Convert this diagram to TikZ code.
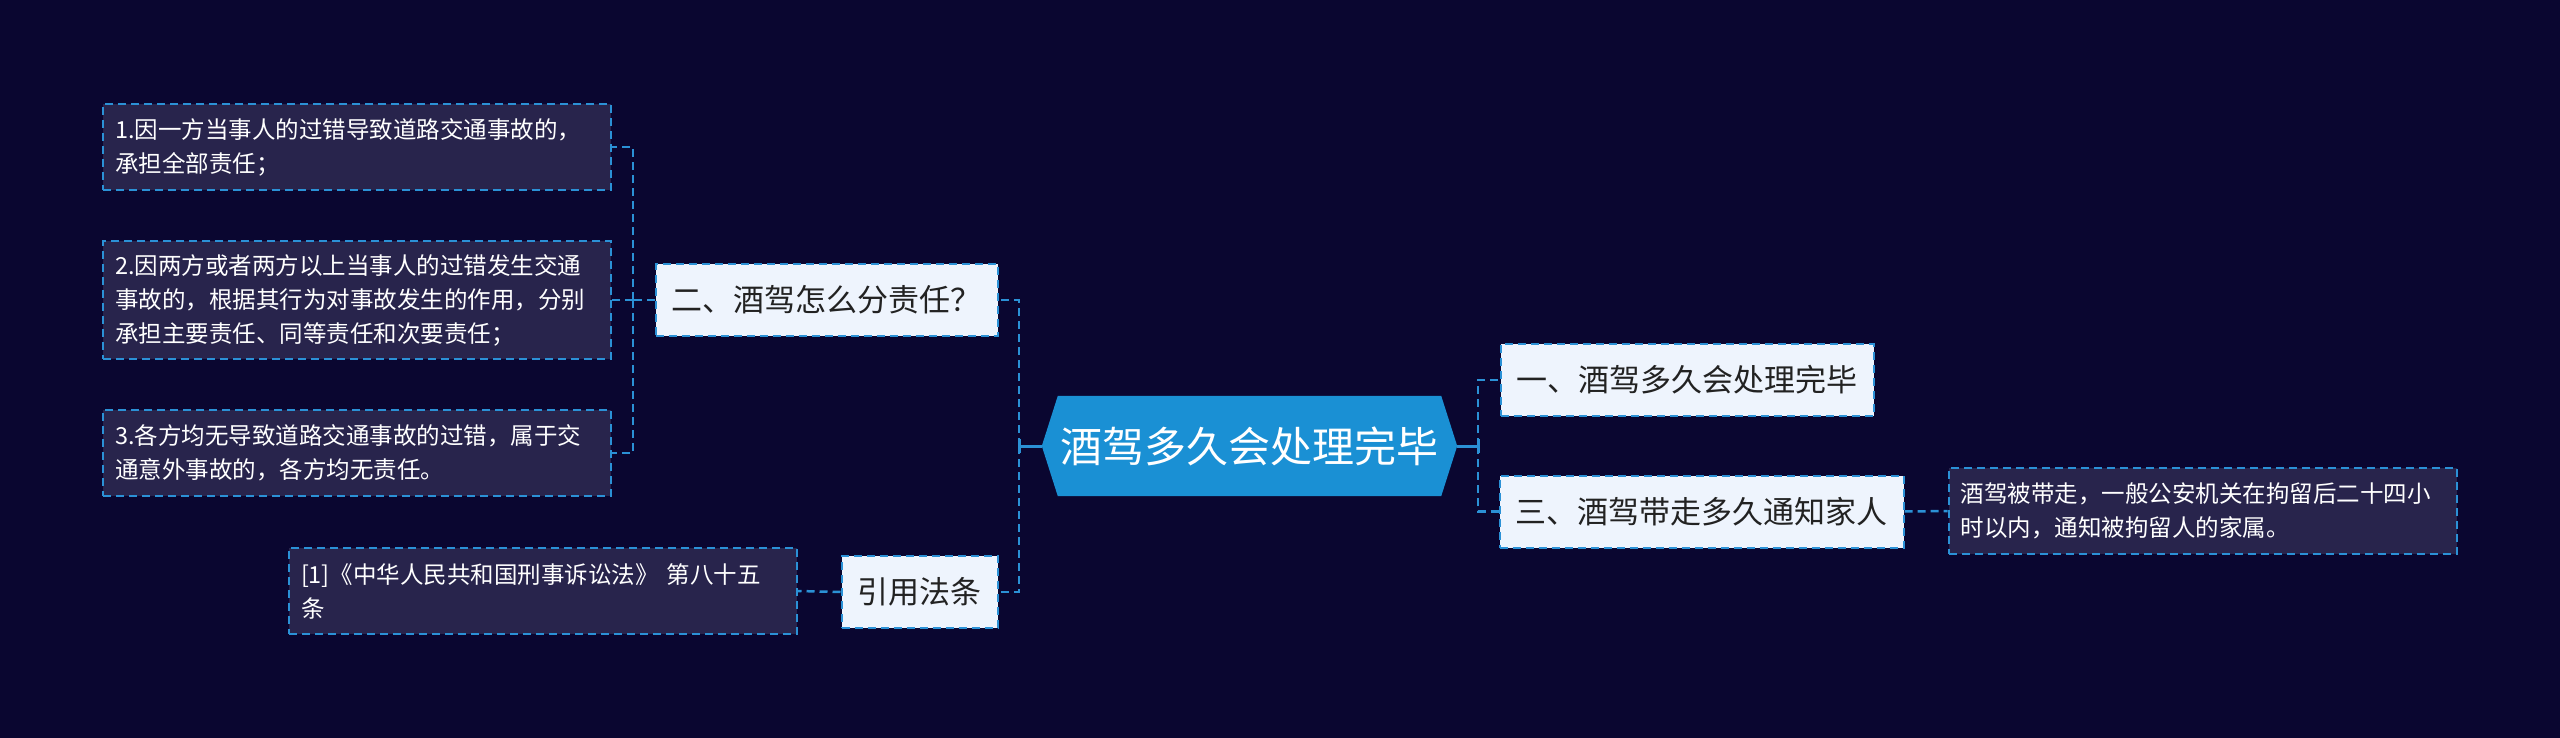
\documentclass[tikz,border=0pt]{standalone}
\usepackage{fontspec}
\newfontfamily\cjk{Noto Sans CJK SC}
\usepackage{xcolor}
\usetikzlibrary{backgrounds}

\definecolor{bgnavy}{HTML}{0A0630}
\definecolor{rootblue}{HTML}{1A90D4}
\definecolor{linkblue}{HTML}{2B91D6}
\definecolor{topicfill}{HTML}{EEF4FD}
\definecolor{topictext}{HTML}{222222}
\definecolor{leaffill}{HTML}{28244C}

\begin{document}
\begin{tikzpicture}[x=1pt, y=-1pt,
    root/.style={rectangle, minimum width=415pt, minimum height=100pt, inner sep=0pt, text=white, font=\cjk\fontsize{42}{50}\selectfont},
    topic/.style={rectangle, draw=linkblue, line width=2pt, dash pattern=on 8pt off 5pt, fill=topicfill, text=topictext, inner xsep=16pt, inner ysep=0pt, minimum height=72pt, font=\cjk\fontsize{31}{38}\selectfont},
    leaf/.style={rectangle, draw=linkblue, line width=2pt, dash pattern=on 8pt off 5pt, fill=leaffill, text=white, text width=484pt, inner xsep=12pt, inner ysep=0pt, minimum height=86pt, align=left, font=\cjk\fontsize{23.5}{34}\selectfont},
    link/.style={draw=linkblue, line width=2.5pt, dash pattern=on 8pt off 5pt},
    stem/.style={draw=linkblue, line width=3pt}
]
    \useasboundingbox (0,0) rectangle (2560,738);

    % Centre
    \node[root] (root) at (1249.5,446) {酒驾多久会处理完毕};

    % Left branch
    \node[topic] (duty) at (826.5,300) {二、酒驾怎么分责任？};
    \node[topic] (law) at (919.5,592) {引用法条};
    \node[leaf] (duty1) at (357,147) {1.因一方当事人的过错导致道路交通事故的，\\承担全部责任；};
    \node[leaf, minimum height=118pt] (duty2) at (357,300) {2.因两方或者两方以上当事人的过错发生交通\\事故的，根据其行为对事故发生的作用，分别\\承担主要责任、同等责任和次要责任；};
    \node[leaf] (duty3) at (357,453) {3.各方均无导致道路交通事故的过错，属于交\\通意外事故的，各方均无责任。};
    \node[leaf] (lawtext) at (543,591) {[1]《中华人民共和国刑事诉讼法》 第八十五\\条};

    % Right branch
    \node[topic] (finish) at (1687,380) {一、酒驾多久会处理完毕};
    \node[topic] (notify) at (1701.5,511.5) {三、酒驾带走多久通知家人};
    \node[leaf] (notifytext) at (2202.5,511) {酒驾被带走，一般公安机关在拘留后二十四小\\时以内，通知被拘留人的家属。};

    % Background and centre shape
    \begin{scope}[on background layer]
        \fill[bgnavy] (0,0) rectangle (2560,738);
        \fill[rootblue] (root.west) -- ([xshift=16pt]root.north west) -- ([xshift=-16pt]root.north east)
            -- (root.east) -- ([xshift=-16pt]root.south east) -- ([xshift=16pt]root.south west) -- cycle;
    \end{scope}

    % Junctions
    \coordinate (hubL) at (1019,446);
    \coordinate (hubR) at (1478,446);
    \coordinate (hubD) at (633,300);

    % Connectors
    \draw[stem] (root.west) -- (hubL);
    \draw[stem] ([yshift=-7pt]hubL) -- ([yshift=7pt]hubL);
    \draw[link] (hubL) |- (duty.east);
    \draw[link] (hubL) |- (law.east);

    \draw[stem] (root.east) -- (hubR);
    \draw[stem] ([yshift=-7pt]hubR) -- ([yshift=7pt]hubR);
    \draw[link] (hubR) |- (finish.west);
    \draw[link] (hubR) |- (notify.west);

    \draw[link] (duty.west) -- (hubD);
    \draw[link] (hubD) |- (duty1.east);
    \draw[link] (hubD) -- (duty2.east);
    \draw[link] (hubD) |- (duty3.east);

    \draw[link] (law.west) -- (lawtext.east);
    \draw[link] (notify.east) -- (notifytext.west);
\end{tikzpicture}
\end{document}
